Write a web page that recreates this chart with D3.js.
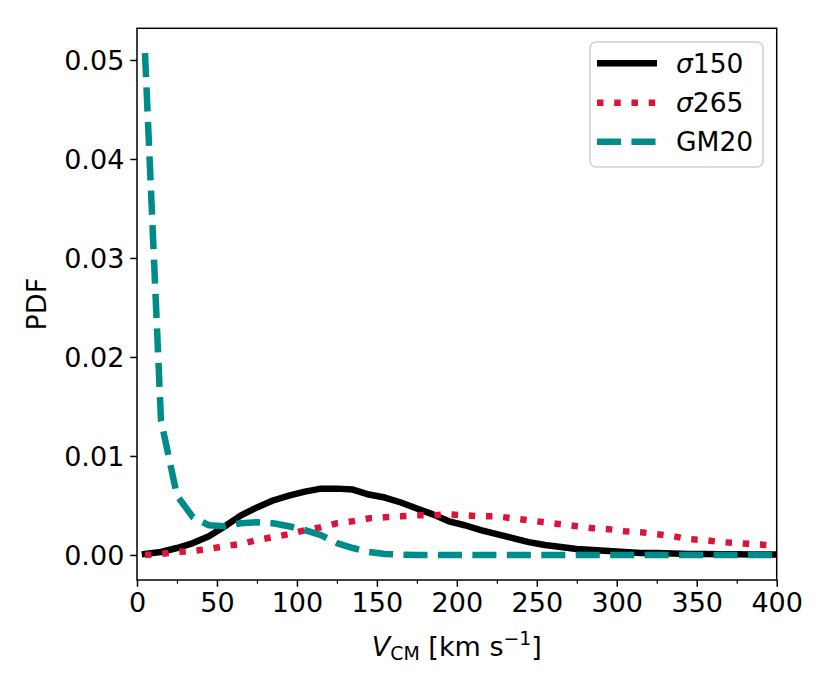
<!DOCTYPE html>
<html><head><meta charset="utf-8">
<script src="https://cdn.jsdelivr.net/npm/d3@7"></script>
<style>html,body{margin:0;padding:0;background:#fff;}svg{display:block;font-family:"DejaVu Sans",sans-serif;}</style>
</head><body>
<div id="chart"></div>
<script>
const vGrid = [5,15,25,35,45,55,65,75,85,95,105,115,125,135,145,155,165,175,185,195,205,215,225,235,245,255,265,275,285,295,305,315,325,335,345,355,365,375,385,395,405];
const sigma150 = [0.0001,0.0003,0.0007,0.0012,0.0019,0.0029,0.0040,0.0048,0.0055,0.0060,0.0064,0.0067,0.0067,0.0066,0.0061,0.0058,0.0053,0.0047,0.0041,0.0034,0.0030,0.0025,0.0021,0.0017,0.0013,0.0010,0.0008,0.0006,0.0005,0.0004,0.0003,0.0002,0.0002,0.00015,0.0001,0.0001,0.00008,0.00006,0.00005,0.00004,0.00003];
const sigma265 = [0.0000,0.0001,0.0003,0.0004,0.0006,0.0009,0.0011,0.0015,0.0018,0.0021,0.0025,0.0028,0.0032,0.0034,0.0037,0.0038,0.0039,0.0040,0.0040,0.0041,0.0040,0.0039,0.0039,0.0037,0.0035,0.0033,0.0031,0.0029,0.0027,0.0026,0.0024,0.0023,0.0021,0.0019,0.0016,0.0015,0.0013,0.0012,0.0011,0.0010,0.0009];
const gm20 = [0.0507,0.0136,0.0060,0.0038,0.0030,0.0029,0.0032,0.0033,0.0032,0.0029,0.0025,0.0020,0.0012,0.0007,0.0003,0.0001,0.00003,0,0,0,0,0,0,0,0,0,0,0,0,0,0,0,0,0,0,0,0,0,0,0,0];
const seriesNames = ["σ150","σ265","GM20"];
const xTicks = [0,50,100,150,200,250,300,350,400];
const xMinorTicks = [25,75,125,175,225,275,325,375];
const yTicks = [0.00,0.01,0.02,0.03,0.04,0.05];

const W = 831, H = 693;
const L = 137, R = 776.7, T = 28.3, B = 580;
const svg = d3.select("#chart").append("svg").attr("width", W).attr("height", H);
const x = d3.scaleLinear().domain([0,400]).range([L,R]);
const y = d3.scaleLinear().domain([-0.00253,0.0532]).range([B,T]);

svg.append("defs").append("clipPath").attr("id","clip")
  .append("rect").attr("x",L).attr("y",T).attr("width",R-L).attr("height",B-T);

const lw = 6.5;
const styles = [
  {data: sigma150, color:"#000000", dash:null, cap:"square"},
  {data: sigma265, color:"#DC143C", dash:`${lw*1} ${lw*1.65}`, cap:"butt"},
  {data: gm20, color:"#008B8B", dash:`${lw*3.7} ${lw*1.6}`, cap:"butt"}
];
const line = d3.line().x(d=>x(d[0])).y(d=>y(d[1]));
const g = svg.append("g").attr("clip-path","url(#clip)");
styles.forEach(s=>{
  g.append("path").datum(vGrid.map((v,i)=>[v,s.data[i]]))
    .attr("d", line).attr("fill","none").attr("stroke", s.color)
    .attr("stroke-width", lw).attr("stroke-linejoin","round")
    .attr("stroke-linecap", s.cap)
    .attr("stroke-dasharray", s.dash);
});

// axes
const fs = 27;
const xAxis = d3.axisBottom(x).tickValues(xTicks).tickFormat(d3.format("d")).tickSize(6.7).tickPadding(5);
const xg = svg.append("g").attr("transform",`translate(0,${B})`).call(xAxis);
const xmg = svg.append("g").attr("transform",`translate(0,${B})`).call(d3.axisBottom(x).tickValues(xMinorTicks).tickFormat("").tickSize(3.8));
const yAxis = d3.axisLeft(y).tickValues(yTicks).tickFormat(d3.format(".2f")).tickSize(6.7).tickPadding(6);
const yg = svg.append("g").attr("transform",`translate(${L},0)`).call(yAxis);
[xg,xmg,yg].forEach(a=>{
  a.select(".domain").remove();
  a.selectAll("line").attr("stroke","#000").attr("stroke-width",1.5);
  a.selectAll("text").attr("font-family","DejaVu Sans").attr("font-size",fs).attr("fill","#000");
});
xmg.selectAll("line").attr("stroke-width",1.2);
xg.selectAll("text").attr("dy","0.76em");
yg.selectAll("text").attr("dy","0.36em");

// frame
svg.append("rect").attr("x",L).attr("y",T).attr("width",R-L).attr("height",B-T)
  .attr("fill","none").attr("stroke","#000").attr("stroke-width",1.5);

// axis labels
const xl = svg.append("text").attr("x",(L+R)/2).attr("y",656).attr("text-anchor","middle")
  .attr("font-size",fs).attr("fill","#000");
xl.append("tspan").attr("font-style","italic").text("V");
xl.append("tspan").attr("font-size",fs*0.7).attr("dy",4).text("CM");
xl.append("tspan").attr("dy",-4).text(" [km s");
xl.append("tspan").attr("font-size",fs*0.7).attr("dy",-11).text("−1");
xl.append("tspan").attr("dy",11).text("]");

svg.append("text").attr("transform",`translate(46,${(T+B)/2}) rotate(-90)`)
  .attr("text-anchor","middle").attr("font-size",fs).attr("fill","#000").text("PDF");

// legend
const lg = svg.append("g");
lg.append("rect").attr("x",590).attr("y",42).attr("width",173).attr("height",125)
  .attr("rx",6).attr("fill","#fff").attr("fill-opacity",0.8)
  .attr("stroke","#d0d0d0").attr("stroke-width",1.5);
const rows = [63.3,102.7,141.7];
const lfs = 26.5;
styles.forEach((s,i)=>{
  lg.append("line").attr("x1",597).attr("x2",657).attr("y1",rows[i]).attr("y2",rows[i])
    .attr("stroke",s.color).attr("stroke-width",lw).attr("stroke-dasharray",s.dash)
    .attr("stroke-linecap","butt");
  const t = lg.append("text").attr("x",676).attr("y",rows[i]+0.365*lfs).attr("font-size",lfs).attr("fill","#000");
  const name = seriesNames[i];
  if (name.startsWith("σ")) {
    t.append("tspan").attr("font-style","italic").text("σ");
    t.append("tspan").text(name.slice(1));
  } else t.text(name);
});
</script>
</body></html>
